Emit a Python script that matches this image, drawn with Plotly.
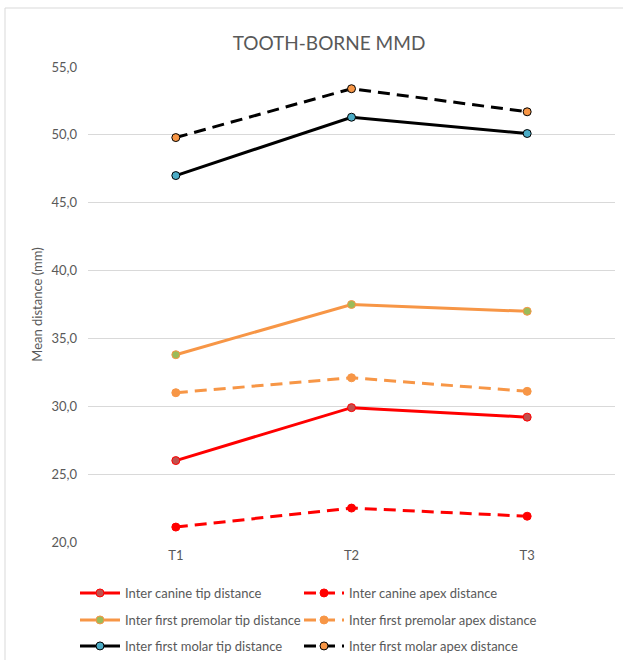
import plotly.graph_objects as go

times = ["T1", "T2", "T3"]
canine_tip = [26.0, 29.9, 29.2]
canine_apex = [21.1, 22.5, 21.9]
premolar_tip = [33.8, 37.5, 37.0]
premolar_apex = [31.0, 32.1, 31.1]
molar_tip = [47.0, 51.3, 50.1]
molar_apex = [49.8, 53.4, 51.7]

names = [
    "Inter canine tip distance", "Inter canine apex distance",
    "Inter first premolar tip distance", "Inter first premolar apex distance",
    "Inter first molar tip distance", "Inter first molar apex distance",
]
series = [canine_tip, canine_apex, premolar_tip, premolar_apex, molar_tip, molar_apex]
line_colors = ["#FF0000", "#FF0000", "#F79646", "#F79646", "#000000", "#000000"]
marker_fill = ["#C0504D", "#FF0000", "#9BBB59", "#F79646", "#4BACC6", "#F79646"]
marker_line = ["#FF0000", "#FF0000", "#F79646", "#F79646", "#000000", "#000000"]
dashes = ["solid", "12px,7px", "solid", "12px,7px", "solid", "12px,7px"]

FONT = "Lato"
GREY = "#595959"

fig = go.Figure()
legend_ids = ["legend", "legend2", "legend3", "legend4", "legend5", "legend6"]
for i in range(6):
    fig.add_trace(go.Scatter(
        x=times, y=series[i], name=names[i], mode="lines+markers",
        line=dict(color=line_colors[i], width=3, dash=dashes[i]),
        marker=dict(size=8, color=marker_fill[i], line=dict(color=marker_line[i], width=1)),
        legend=legend_ids[i], showlegend=True,
    ))

W, H = 623, 660
L, R, T, B = 88, 8, 67, 118
pw, ph = W - L - R, H - T - B

def px(x):
    return (x - L) / pw

def py(y):
    return (H - B - y) / ph

leg_common = dict(orientation="h", xanchor="left", yanchor="middle",
                  xref="container", yref="container",
                  font=dict(family=FONT, size=13, color=GREY), bgcolor="rgba(0,0,0,0)",
                  itemwidth=40)

col_x = [75, 299]
row_y = [593, 620, 646]
legend_layout = {}
for i, lid in enumerate(legend_ids):
    legend_layout[lid] = dict(x=col_x[i % 2] / W, y=1 - row_y[i // 2] / H, **leg_common)

fig.update_layout(
    width=W, height=H,
    showlegend=True,
    margin=dict(l=L, r=R, t=T, b=B),
    paper_bgcolor="white", plot_bgcolor="white",
    separators=", ",
    font=dict(family=FONT, color=GREY),
    title=dict(text="TOOTH-BORNE MMD", x=px(329), xref="paper", xanchor="center",
               y=1 - 43 / H, yanchor="middle", font=dict(family=FONT, size=19, color=GREY)),
    xaxis=dict(showgrid=False, showline=False, zeroline=False, ticks="", range=[-0.5, 2.5],
               tickfont=dict(family=FONT, size=13, color=GREY), ticklabelstandoff=4),
    yaxis=dict(range=[20, 55], dtick=5, tickformat=".1f", showgrid=True, gridcolor="#D9D9D9",
               gridwidth=1, zeroline=False, showline=False, ticks="",
               tickfont=dict(family=FONT, size=13, color=GREY), ticklabelstandoff=10,
               title=dict(text="Mean distance (mm)", font=dict(family=FONT, size=13, color=GREY),
                          standoff=5)),
    shapes=[dict(type="rect", xref="paper", yref="paper", x0=px(5), x1=px(640), y0=py(680), y1=py(8),
                 line=dict(color="#D9D9D9", width=1), fillcolor="rgba(0,0,0,0)", layer="below")],
    **legend_layout,
)

fig.write_html("out.html")
